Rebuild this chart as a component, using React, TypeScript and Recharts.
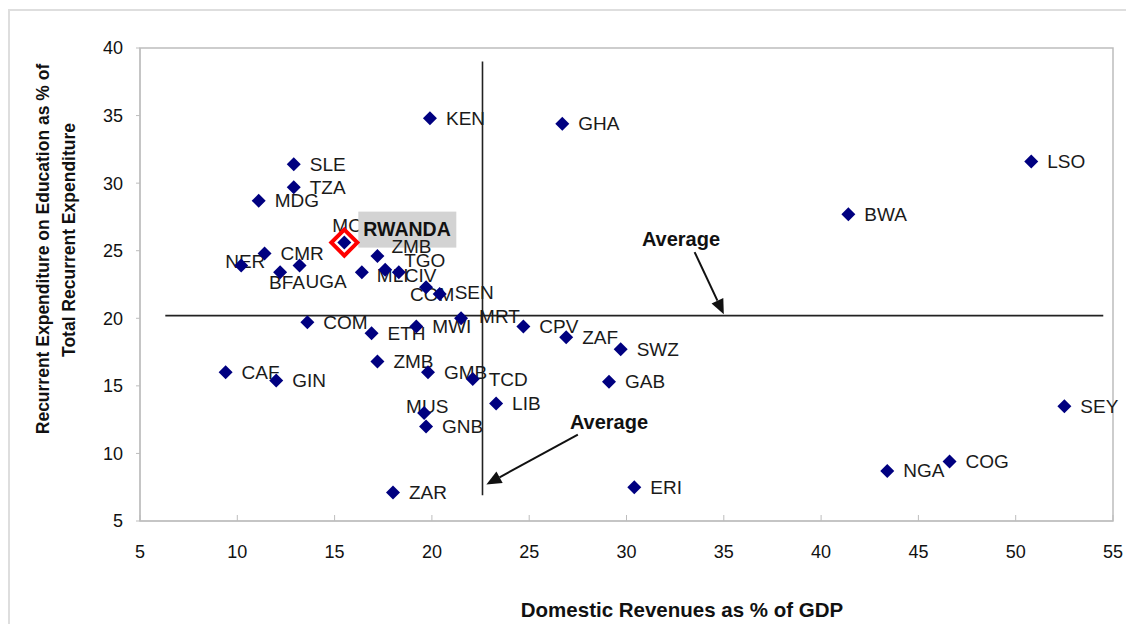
import React from 'react';
import {
  ScatterChart,
  Scatter,
  XAxis,
  YAxis,
  ReferenceLine,
  ReferenceArea,
  ReferenceDot,
} from 'recharts';

// Country codes, domestic revenues (% of GDP) and education share of recurrent spending (%)
const countryCodes = [
  'KEN', 'GHA', 'LSO', 'BWA', 'SLE', 'TZA', 'MDG', 'MOZ', 'CMR', 'NER',
  'BFA', 'UGA', 'ZMB', 'MLI', 'TGO', 'CIV', 'COM', 'SEN', 'MRT', 'MWI',
  'ETH', 'COM', 'CAF', 'GIN', 'ZMB', 'GMB', 'TCD', 'MUS', 'GNB', 'LIB',
  'ZAR', 'CPV', 'ZAF', 'SWZ', 'GAB', 'ERI', 'SEY', 'NGA', 'COG',
];
const revenueShare = [
  19.9, 26.7, 50.8, 41.4, 12.9, 12.9, 11.1, 15.5, 11.4, 10.2,
  12.2, 13.2, 17.2, 16.4, 17.6, 18.3, 19.7, 20.4, 21.5, 19.2,
  16.9, 13.6, 9.4, 12.0, 17.2, 19.8, 22.1, 19.6, 19.7, 23.3,
  18.0, 24.7, 26.9, 29.7, 29.1, 30.4, 52.5, 43.4, 46.6,
];
const educationShare = [
  34.8, 34.4, 31.6, 27.7, 31.4, 29.7, 28.7, 25.6, 24.8, 23.9,
  23.4, 23.9, 24.6, 23.4, 23.6, 23.4, 22.3, 21.8, 20.0, 19.4,
  18.9, 19.7, 16.0, 15.4, 16.8, 16.0, 15.5, 13.0, 12.0, 13.7,
  7.1, 19.4, 18.6, 17.7, 15.3, 7.5, 13.5, 8.7, 9.4,
];

// Highlighted country
const highlightName = 'RWANDA';
const highlightRevenue = 15.5;
const highlightEducation = 25.6;

// Sample averages
const averageRevenue = 22.6;
const averageEducation = 20.2;

const xTicks = [5, 10, 15, 20, 25, 30, 35, 40, 45, 50, 55];
const yTicks = [5, 10, 15, 20, 25, 30, 35, 40];

const FONT = '"Liberation Sans", Arial, sans-serif';
const NAVY = '#000080';
const AXIS_GREY = '#bdbdbd';

// Hand-placed label nudges (text start / vertical centre relative to the marker)
const labelNudges: Record<number, [number, number]> = {
  7: [-12, -17],
  9: [-16, -4],
  10: [-11, 10],
  11: [6, 16],
  12: [14, -10],
  13: [15, 3],
  14: [19, -9],
  15: [6, 3],
  16: [-16, 7],
  17: [15, -1],
  18: [18, -2],
  27: [-18, -6],
};

// Labels that sit underneath the highlight call-out box
const hiddenUnderCallout = new Set([7]);

const countryRows = countryCodes.map((code, i) => {
  const [dx, dy] = labelNudges[i] ?? [16, 0];
  return { x: revenueShare[i], y: educationShare[i], code, dx, dy };
});
const lowerLabelRows = countryRows.filter((_, i) => hiddenUnderCallout.has(i));
const upperLabelRows = countryRows.filter((_, i) => !hiddenUnderCallout.has(i));

const highlightRows = [{ x: highlightRevenue, y: highlightEducation, code: highlightName }];

const NavyDiamond = (props: any) => {
  const { cx, cy } = props;
  if (cx == null || cy == null) return null;
  const r = 7;
  return (
    <polygon
      points={`${cx},${cy - r} ${cx + r},${cy} ${cx},${cy + r} ${cx - r},${cy}`}
      fill={NAVY}
    />
  );
};

const CountryLabel = (props: any) => {
  const { cx, cy, payload } = props;
  if (cx == null || cy == null) return null;
  return (
    <text
      x={cx + payload.dx}
      y={cy + payload.dy}
      dominantBaseline="central"
      fontSize={19}
      fontFamily={FONT}
      fill="#1a1a1a"
    >
      {payload.code}
    </text>
  );
};

const HighlightMarker = (props: any) => {
  const { cx, cy } = props;
  if (cx == null || cy == null) return null;
  const r = 13;
  return (
    <polygon
      points={`${cx},${cy - r} ${cx + r},${cy} ${cx},${cy + r} ${cx - r},${cy}`}
      fill="#ffffff"
      stroke="#ff0000"
      strokeWidth={4}
    />
  );
};

const HighlightLabel = (props: any) => {
  const { cx, cy, payload } = props;
  if (cx == null || cy == null) return null;
  return (
    <g>
      <rect x={cx + 14} y={cy - 31} width={98} height={36} fill="#d3d3d3" />
      <text
        x={cx + 19}
        y={cy - 14}
        dominantBaseline="central"
        fontSize={19.5}
        fontWeight="bold"
        fontFamily={FONT}
        fill="#111"
      >
        {payload.code}
      </text>
    </g>
  );
};

const Arrow = (props: any) => {
  const { x1, y1, x2, y2 } = props;
  if ([x1, y1, x2, y2].some((v) => v == null || Number.isNaN(v))) return null;
  const len = Math.hypot(x2 - x1, y2 - y1);
  const ux = (x2 - x1) / len;
  const uy = (y2 - y1) / len;
  const head = 15;
  const half = 6.5;
  const bx = x2 - ux * head;
  const by = y2 - uy * head;
  return (
    <g>
      <line x1={x1} y1={y1} x2={bx} y2={by} stroke="#111" strokeWidth={2} />
      <polygon
        points={`${x2},${y2} ${bx - uy * half},${by + ux * half} ${bx + uy * half},${by - ux * half}`}
        fill="#111"
      />
    </g>
  );
};

const AverageText = (props: any) => {
  const { cx, cy } = props;
  if (cx == null || cy == null) return null;
  return (
    <text
      x={cx}
      y={cy}
      textAnchor="middle"
      dominantBaseline="central"
      fontSize={20}
      fontWeight="bold"
      fontFamily={FONT}
      fill="#111"
    >
      Average
    </text>
  );
};

const YTitle = () => (
  <g fontFamily={FONT} fontWeight="bold" fontSize={17.5} fill="#111">
    <text x={43} y={249} textAnchor="middle" dominantBaseline="central" transform="rotate(-90 43 249)">
      Recurrent Expenditure on Education as % of
    </text>
    <text x={69} y={240} textAnchor="middle" dominantBaseline="central" transform="rotate(-90 69 240)">
      Total Recurrent Expenditure
    </text>
  </g>
);

const XTitle = () => (
  <text
    x={682}
    y={609}
    textAnchor="middle"
    dominantBaseline="central"
    fontFamily={FONT}
    fontWeight="bold"
    fontSize={20.5}
    fill="#111"
  >
    Domestic Revenues as % of GDP
  </text>
);

export default function App() {
  return (
    <div
      style={{
        position: 'absolute',
        left: 0,
        top: 0,
        width: 1126,
        height: 624,
        background: '#ffffff',
        overflow: 'hidden',
      }}
    >
      <div
        style={{
          position: 'absolute',
          left: 8,
          top: 9,
          width: 1150,
          height: 700,
          border: '2px solid #dedede',
        }}
      />
      <div style={{ position: 'absolute', left: 0, top: 0 }}>
        <ScatterChart width={1126} height={624} margin={{ top: 48, right: 13, bottom: 0, left: 0 }}>
          <XAxis
            type="number"
            dataKey="x"
            domain={[5, 55]}
            ticks={xTicks}
            height={103}
            stroke={AXIS_GREY}
            tickSize={-6}
            tickMargin={30}
            tick={{ fontSize: 18, fill: '#111', fontFamily: FONT }}
            label={<XTitle />}
          />
          <YAxis
            type="number"
            dataKey="y"
            domain={[5, 40]}
            ticks={yTicks}
            width={140}
            stroke={AXIS_GREY}
            tickSize={4}
            tickMargin={13}
            tick={{ fontSize: 18, fill: '#111', fontFamily: FONT }}
            label={<YTitle />}
          />
          <ReferenceArea x1={5} x2={55} y1={5} y2={40} fill="none" stroke={AXIS_GREY} strokeWidth={1.5} />
          <ReferenceLine
            segment={[
              { x: 6.3, y: averageEducation },
              { x: 54.5, y: averageEducation },
            ]}
            stroke="#222"
            strokeWidth={1.6}
          />
          <ReferenceLine
            segment={[
              { x: averageRevenue, y: 6.9 },
              { x: averageRevenue, y: 39.0 },
            ]}
            stroke="#222"
            strokeWidth={1.6}
          />
          <ReferenceLine
            segment={[
              { x: 33.5, y: 24.9 },
              { x: 35.0, y: 20.3 },
            ]}
            shape={<Arrow />}
          />
          <ReferenceLine
            segment={[
              { x: 27.5, y: 11.4 },
              { x: 22.8, y: 7.7 },
            ]}
            shape={<Arrow />}
          />
          <ReferenceDot x={32.8} y={25.9} r={0} shape={<AverageText />} />
          <ReferenceDot x={29.1} y={12.3} r={0} shape={<AverageText />} />

          <Scatter data={lowerLabelRows} shape={<CountryLabel />} isAnimationActive={false} />
          <Scatter data={highlightRows} shape={<HighlightLabel />} isAnimationActive={false} />
          <Scatter data={upperLabelRows} shape={<CountryLabel />} isAnimationActive={false} />
          <Scatter data={highlightRows} shape={<HighlightMarker />} isAnimationActive={false} />
          <Scatter data={countryRows} shape={<NavyDiamond />} isAnimationActive={false} />
        </ScatterChart>
      </div>
    </div>
  );
}
